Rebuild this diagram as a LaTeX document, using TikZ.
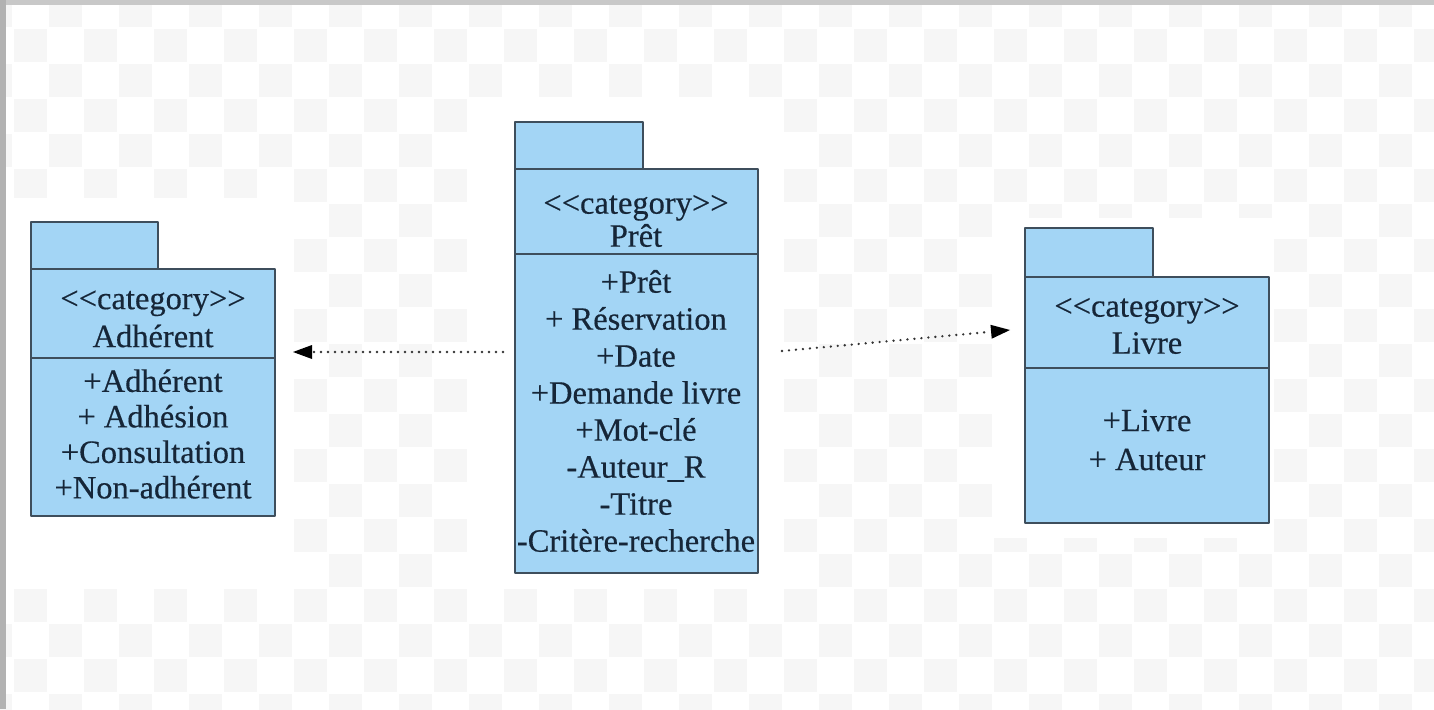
\documentclass[tikz,border=0pt]{standalone}
\usepackage{fontspec}
\setmainfont{Liberation Serif}[Ligatures=NoCommon]
\newfontfamily\pkgfont{Liberation Serif}[Ligatures=NoCommon, FakeBold=0.4]
\usetikzlibrary{arrows.meta}

\definecolor{pkgfill}{RGB}{163,213,245}
\definecolor{pkgline}{RGB}{62,78,92}
\definecolor{pkgtext}{RGB}{22,38,56}
\definecolor{tile}{RGB}{246,246,246}
\definecolor{frameA}{RGB}{178,178,178}
\definecolor{frameB}{RGB}{200,200,200}

\newcommand{\stereo}{<{}<category>{}>}

\tikzset{
  pkgpart/.style={draw=pkgline, fill=pkgfill, line width=1.6pt, line join=round},
  pkgsep/.style={draw=pkgline, line width=1.6pt},
  pkgtxt/.style={text=pkgtext, inner sep=0pt, align=center,
                 font=\pkgfont\fontsize{32.5}{36.5}\selectfont},
  deplink/.style={draw=black!80, line width=2.6pt, line cap=round,
                  dash pattern=on 0pt off 7pt,
                  -{Triangle[length=19pt,width=14pt,fill=black,line width=0pt]}},
}

\begin{document}
\begin{tikzpicture}[x=1pt,y=-1pt]
\useasboundingbox (0,0) rectangle (1434,709);
\fill[white] (0,0) rectangle (1434,709);

% checkered backdrop
\foreach \k in {-1,...,41} {
  \foreach \m in {-1,...,20} {
    \pgfmathtruncatemacro\tileodd{mod(\k+\m+100,2)}
    \ifnum\tileodd=0
      \fill[tile] ({13+35*\k+1},{28+35*\m+1}) rectangle ({13+35*(\k+1)-1},{28+35*(\m+1)-1});
    \fi
  }
}
% clear margins round the packages
\fill[white] (6,198) rectangle (293,588);
\fill[white] (468,98) rectangle (783,588);
\fill[white] (993,218) rectangle (1273,538);

% window frame
\fill[frameB] (0,0) rectangle (1434,5);
\fill[frameA] (0,0) rectangle (6,709);

% package Adherent
\path[pkgpart] (31,222) rectangle (158,269);
\path[pkgpart] (31,269) rectangle (275,516);
\draw[pkgsep] (31,358) -- (275,358);
\node[pkgtxt, font=\pkgfont\fontsize{32.5}{38}\selectfont] (adhHead) at (153,319) {\stereo\\Adhérent};
\node[pkgtxt, font=\pkgfont\fontsize{32.5}{35.5}\selectfont] (adhBody) at (153,434) {+Adhérent\\+ Adhésion\\+Consultation\\+Non-adhérent};
\coordinate (adhIn) at (293,352);

% package Pret
\path[pkgpart] (515,122) rectangle (643,169);
\path[pkgpart] (515,169) rectangle (758,573);
\draw[pkgsep] (515,254) -- (758,254);
\node[pkgtxt, font=\pkgfont\fontsize{32.5}{33}\selectfont] (pretHead) at (636,221) {\stereo\\Prêt};
\node[pkgtxt, font=\pkgfont\fontsize{32.5}{37}\selectfont] (pretBody) at (636,411) {+Prêt\\+ Réservation\\+Date\\+Demande livre\\+Mot-clé\\-Auteur\_R\\-Titre\\-Critère-recherche};
\coordinate (pretOutL) at (503,352);
\coordinate (pretOutR) at (782,351);

% package Livre
\path[pkgpart] (1025,228) rectangle (1153,277);
\path[pkgpart] (1025,277) rectangle (1269,523);
\draw[pkgsep] (1025,368) -- (1269,368);
\node[pkgtxt, font=\pkgfont\fontsize{32.5}{37}\selectfont] (livHead) at (1147,326) {\stereo\\Livre};
\node[pkgtxt, font=\pkgfont\fontsize{32.5}{39}\selectfont] (livBody) at (1147,440) {+Livre\\+ Auteur};
\coordinate (livIn) at (1010,330);

% dependencies
\draw[deplink] (pretOutL) -- (adhIn);
\draw[deplink] (pretOutR) -- (livIn);
\end{tikzpicture}
\end{document}
